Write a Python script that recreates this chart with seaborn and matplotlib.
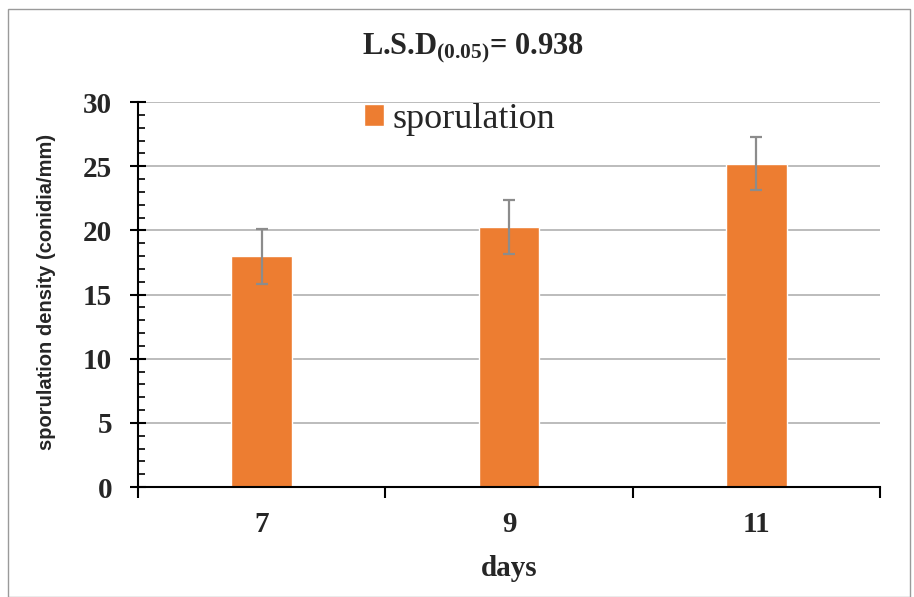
import matplotlib
matplotlib.use("Agg")
import matplotlib.pyplot as plt
import seaborn as sns
import pandas as pd
from matplotlib.patches import Rectangle
from matplotlib.ticker import MultipleLocator, FixedLocator

days = ["7", "9", "11"]
sporulation = [18.0, 20.3, 25.2]
errors = [2.15, 2.1, 2.05]
yticks = [0, 5, 10, 15, 20, 25, 30]

df = pd.DataFrame({"days": days, "sporulation": sporulation})

sns.set_style("white")
plt.rcParams["font.family"] = ["Liberation Serif", "DejaVu Serif"]
plt.rcParams["mathtext.fontset"] = "custom"
plt.rcParams["mathtext.bf"] = "Liberation Serif:bold"
plt.rcParams["mathtext.rm"] = "Liberation Serif:bold"
plt.rcParams["mathtext.it"] = "Liberation Serif:bold"

fig = plt.figure(figsize=(9.14, 5.97), dpi=100)
ax = fig.add_axes([0.151, 0.184, 0.812, 0.645])

orange = "#ED7D31"
sns.barplot(data=df, x="days", y="sporulation", color=orange, width=0.245,
            saturation=1, errorbar=None, ax=ax, label="sporulation")
ax.errorbar(range(len(days)), sporulation, yerr=errors, fmt="none",
            ecolor="#8c8c8c", elinewidth=1.6, capsize=4.5, capthick=1.6, zorder=5)

ax.set_xlim(-0.5, 2.5)
ax.set_ylim(0, 30)
ax.set_yticks(yticks)
ax.yaxis.set_minor_locator(MultipleLocator(1))
ax.yaxis.grid(True, which="major", color="#b0b0b0", linewidth=1.2)
ax.set_axisbelow(True)

for s in ["top", "right"]:
    ax.spines[s].set_visible(False)
for s in ["left", "bottom"]:
    ax.spines[s].set_color("black")
    ax.spines[s].set_linewidth(1.5)

# x category ticks: labels at centers, tick marks at boundaries
ax.set_xticks(range(len(days)))
ax.set_xticklabels(days, fontsize=21, fontweight="bold")
ax.tick_params(axis="x", which="major", bottom=True, length=0, pad=17)
ax.xaxis.set_minor_locator(FixedLocator([-0.5, 0.5, 1.5, 2.5]))
ax.tick_params(axis="x", which="minor", bottom=True, length=8, width=1.5,
               direction="out", color="black")

ax.tick_params(axis="y", which="major", left=True, length=11, width=1.5, direction="inout",
               color="black", labelsize=21, pad=13)
ax.tick_params(axis="y", which="minor", left=True, length=5, width=1.2, direction="in",
               color="black")
for lbl in ax.get_yticklabels():
    lbl.set_fontweight("bold")

ax.set_xlabel("days", fontsize=21, fontweight="bold")
ax.xaxis.set_label_coords(0.5, -0.175)
ax.set_ylabel("sporulation density (conidia/mm)", fontsize=14.5, fontweight="bold",
              family=["Liberation Sans", "DejaVu Sans"])
ax.yaxis.set_label_coords(-0.111, 0.506)

fig.text(0.517, 0.92, r"L.S.D$_{\mathbf{(0.05)}}$= 0.938", ha="center", va="center",
         fontsize=22, fontweight="bold")

leg = ax.legend(loc="center", bbox_to_anchor=(0.503, 0.80), bbox_transform=fig.transFigure,
                frameon=False, fontsize=26, handlelength=0.55, handleheight=0.55,
                handletextpad=0.25, borderpad=0)

fig.patches.append(Rectangle((0.009, 0.0), 0.987, 0.985, transform=fig.transFigure,
                             fill=False, edgecolor="#9a9a9a", linewidth=1.0))

fig.savefig("out.png", dpi=100)
